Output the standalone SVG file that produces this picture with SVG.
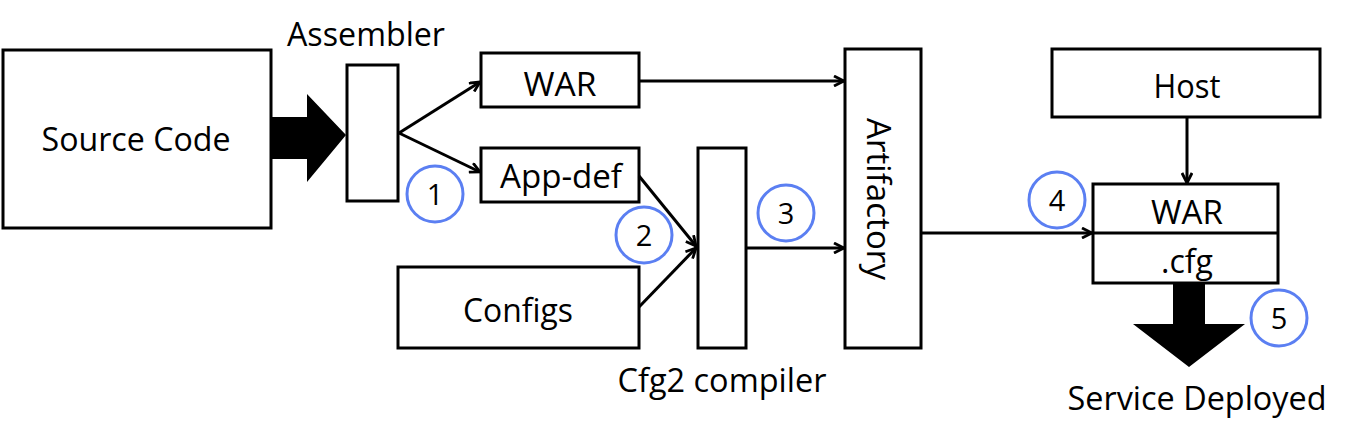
<svg xmlns="http://www.w3.org/2000/svg" width="1347" height="429" viewBox="0 0 1347 429">
<defs>
<style>
.box{fill:#fff;stroke:#000;stroke-width:3}
.t{font-family:"Open Sans","Liberation Sans",sans-serif;font-size:32px;fill:#000;text-anchor:middle}
.n{font-family:"Open Sans","Liberation Sans",sans-serif;font-size:29px;fill:#000;text-anchor:middle}
.c{fill:none;stroke:#5b7ff2;stroke-width:3}
.ln{fill:none;stroke:#000;stroke-width:3}
</style>
<marker id="ah" viewBox="0 0 12 12" refX="11" refY="6" markerWidth="12" markerHeight="12" markerUnits="userSpaceOnUse" orient="auto">
<path d="M1,1 L11,6 L1,11" fill="none" stroke="#000" stroke-width="2.8"/>
</marker>
</defs>
<rect width="1347" height="429" fill="#fff"/>

<g id="source-code">
<rect class="box" x="3" y="50" width="268" height="178"/>
<text class="t" x="136" y="151" textLength="189" lengthAdjust="spacingAndGlyphs">Source Code</text>
</g>

<g id="assembler">
<rect class="box" x="347" y="65" width="51" height="136"/>
<text class="t" x="366" y="46" textLength="158" lengthAdjust="spacingAndGlyphs">Assembler</text>
</g>

<g id="war1">
<rect class="box" x="481" y="53" width="158" height="54"/>
<text class="t" x="560" y="96" textLength="73" lengthAdjust="spacingAndGlyphs">WAR</text>
</g>

<g id="app-def">
<rect class="box" x="481" y="148" width="158" height="54"/>
<text class="t" x="561" y="188" textLength="122" lengthAdjust="spacingAndGlyphs">App-def</text>
</g>

<g id="configs">
<rect class="box" x="398" y="267" width="241" height="81"/>
<text class="t" x="518" y="322" textLength="110" lengthAdjust="spacingAndGlyphs">Configs</text>
</g>

<g id="cfg2-compiler">
<rect class="box" x="698" y="148" width="48" height="200"/>
<text class="t" x="722" y="392" textLength="209" lengthAdjust="spacingAndGlyphs">Cfg2 compiler</text>
</g>

<g id="artifactory">
<rect class="box" x="845" y="49" width="76" height="299"/>
<text class="t" transform="translate(867 199) rotate(90)" x="0" y="0" textLength="162" lengthAdjust="spacingAndGlyphs">Artifactory</text>
</g>

<g id="host">
<rect class="box" x="1052" y="49" width="268" height="68"/>
<text class="t" x="1187" y="98" textLength="67" lengthAdjust="spacingAndGlyphs">Host</text>
</g>

<g id="deploy-package">
<rect class="box" x="1093" y="184" width="185" height="99"/>
<line x1="1093" y1="233" x2="1278" y2="233" stroke="#000" stroke-width="3"/>
<text class="t" x="1187" y="224" textLength="72" lengthAdjust="spacingAndGlyphs">WAR</text>
<text class="t" x="1187" y="273" textLength="52" lengthAdjust="spacingAndGlyphs">.cfg</text>
</g>

<g id="service-deployed">
<text class="t" x="1197" y="410" textLength="259" lengthAdjust="spacingAndGlyphs">Service Deployed</text>
</g>

<g id="connectors">
<polygon points="271,117 307,117 307,94 346,135 307,182 307,159 271,159" fill="#000"/>
<line class="ln" x1="399" y1="133" x2="480" y2="82" marker-end="url(#ah)"/>
<line class="ln" x1="399" y1="133" x2="480" y2="172" marker-end="url(#ah)"/>
<line class="ln" x1="639" y1="81" x2="844" y2="81" marker-end="url(#ah)"/>
<line class="ln" x1="639" y1="176" x2="696" y2="246" marker-end="url(#ah)"/>
<line class="ln" x1="639" y1="307" x2="696" y2="248" marker-end="url(#ah)"/>
<line class="ln" x1="746" y1="248" x2="844" y2="248" marker-end="url(#ah)"/>
<line class="ln" x1="921" y1="233" x2="1092" y2="233" marker-end="url(#ah)"/>
<line class="ln" x1="1187" y1="117" x2="1187" y2="183" marker-end="url(#ah)"/>
<polygon points="1173,283 1205,283 1205,324 1245,324 1189,367 1133,324 1173,324" fill="#000"/>
</g>

<g id="step-markers">
<circle class="c" cx="435" cy="194" r="28"/>
<text class="n" x="435" y="205">1</text>
<circle class="c" cx="644" cy="235" r="28"/>
<text class="n" x="644" y="246">2</text>
<circle class="c" cx="786" cy="213" r="28"/>
<text class="n" x="786" y="224">3</text>
<circle class="c" cx="1057" cy="200" r="28"/>
<text class="n" x="1057" y="211">4</text>
<circle class="c" cx="1279" cy="318" r="28"/>
<text class="n" x="1279" y="329">5</text>
</g>
</svg>
